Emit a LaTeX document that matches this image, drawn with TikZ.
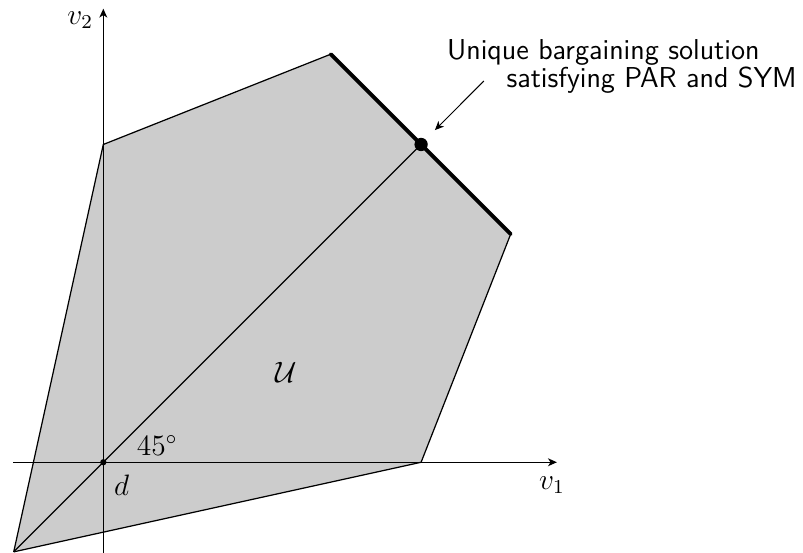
\documentclass[tikz,border=0pt]{standalone}
\usepackage{amsmath,amssymb}
\usepackage{xcolor}
\usepackage{tikz}
\usetikzlibrary{arrows.meta, positioning, calc}
\definecolor{region}{RGB}{204,204,204}

\begin{document}
\begin{tikzpicture}[
    every node/.style={font=\fontsize{11.7}{14}\selectfont},
    tip/.style={-{Stealth[length=3.6pt, width=3.2pt, inset=1pt]}},
    axis/.style={tip, line width=0.5pt},
    frontier/.style={line width=1.6pt, line cap=round},
    note/.style={font=\fontsize{11.7}{14}\selectfont\sffamily, inner sep=0pt, anchor=base west},
    ]
\useasboundingbox (-1.476,-1.296) rectangle (9.996,6.604);
% feasible set U
\coordinate (p0) at (-1.28,-1.28);
\coordinate (p1) at (0,4.54);
\coordinate (p2) at (3.25,5.83);
\coordinate (p3) at (5.82,3.26);
\coordinate (p4) at (4.54,0);
\coordinate (sol) at (4.54,4.54);
\fill[region] (p0) -- (p1) -- (p2) -- (p3) -- (p4) -- cycle;
\draw[line width=0.5pt] (p0) -- (p1) -- (p2);
\draw[line width=0.5pt] (p3) -- (p4) -- (p0);
\draw[frontier] (p2) -- (p3);

% axes
\coordinate (d) at (0,0);
\coordinate (x0) at (-1.29,0);
\coordinate (x1) at (6.48,0);
\coordinate (y0) at (0,-1.31);
\coordinate (y1) at (0,6.48);
\draw[axis] (x0) -- (x1);
\draw[axis] (y0) -- (y1);
\node (v1) at (6.41,-0.33) {$v_1$};
\node (v2) at (-0.33,6.32) {$v_2$};

% 45 degree line
\draw[line width=0.5pt] (p0) -- (sol);
\fill (d) circle (0.045);
\fill (sol) circle (0.095);
\node (dlab) at (0.26,-0.33) {$d$};
\node (angle) at (0.77,0.24) {$45^\circ$};
\node (U) at (2.61,1.28) {$\mathcal{U}$};

% annotation
\node[note] (txt1) at (4.906,5.747) {Unique bargaining solution};
\node[note] (txt2) at (5.753,5.347) {satisfying PAR and SYM};
\coordinate (from) at (5.437,5.447);
\coordinate (to) at (4.738,4.746);
\draw[tip, line width=0.4pt] (from) -- (to);
\end{tikzpicture}
\end{document}
